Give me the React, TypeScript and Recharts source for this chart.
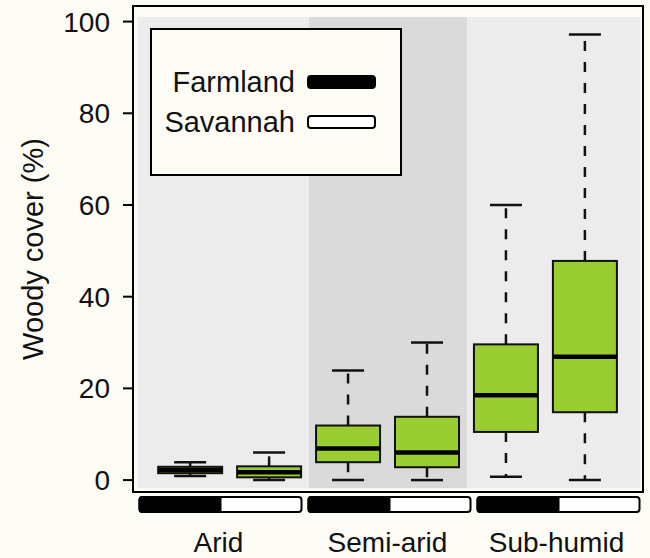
import React from "react";
import { ComposedChart, Bar, XAxis, YAxis, ReferenceArea, Legend } from "recharts";

// ---- data ----
const categories = ["Arid", "Semi-arid", "Sub-humid"];
const landUses = ["Farmland", "Savannah"];
const whiskerLow = [0.9, 0, 0, 0, 0.7, 0];
const q1 = [1.5, 0.6, 3.9, 2.8, 10.5, 14.8];
const median = [2.2, 1.7, 6.9, 6.0, 18.5, 26.9];
const q3 = [2.9, 3.0, 11.9, 13.8, 29.6, 47.8];
const whiskerHigh = [3.9, 6.0, 23.9, 30.0, 60.0, 97.2];
const yTicks = [0, 20, 40, 60, 80, 100];

const data = whiskerLow.map((_, i) => ({
  pos: i + 1,
  group: categories[Math.floor(i / 2)],
  landUse: landUses[i % 2],
  min: whiskerLow[i],
  q1: q1[i],
  median: median[i],
  q3: q3[i],
  max: whiskerHigh[i],
}));

// ---- style ----
const BOX_DOMAIN: [number, number] = [0.27, 6.73];
const Y_DOMAIN: [number, number] = [-2.6, 103.4];
const FONT = '"Liberation Sans", Arial, Helvetica, sans-serif';
const GREEN = "#9acd32";
const PAGE_BG = "#fcfcf5";
const shades = ["#ececec", "#dadada", "#ececec"];
const landUseFill = ["#000000", "#ffffff"];

function BoxShape(props: any) {
  const { x, y, width, height, payload } = props;
  if (!payload) return null;
  const top = Math.min(y, y + height);
  const bottom = Math.max(y, y + height);
  const span = payload.max - payload.min;
  const toY = (v: number) => bottom - ((v - payload.min) / span) * (bottom - top);
  const cx = x + width / 2;
  const capHalf = width / 4;
  const yQ1 = toY(payload.q1);
  const yQ3 = toY(payload.q3);
  const yMed = toY(payload.median);
  const ink = "#111";
  return (
    <g>
      <line x1={cx} x2={cx} y1={yQ3} y2={top} stroke={ink} strokeWidth={2.5} strokeDasharray="10 11" />
      <line x1={cx} x2={cx} y1={yQ1} y2={bottom} stroke={ink} strokeWidth={2.5} strokeDasharray="10 11" />
      <line x1={cx - capHalf} x2={cx + capHalf} y1={top} y2={top} stroke={ink} strokeWidth={2.5} />
      <line x1={cx - capHalf} x2={cx + capHalf} y1={bottom} y2={bottom} stroke={ink} strokeWidth={2.5} />
      <rect x={x} y={yQ3} width={width} height={Math.max(yQ1 - yQ3, 0)} fill={GREEN} stroke={ink} strokeWidth={2} />
      <line x1={x} x2={x + width} y1={yMed} y2={yMed} stroke="#000" strokeWidth={4.5} />
    </g>
  );
}

function StripTick(props: any) {
  const { x, y, payload } = props;
  const label = payload.value;
  const w = 162;
  const h = 15;
  const left = x - w / 2;
  const top = y + 5;
  return (
    <g>
      <rect x={left} y={top} width={w} height={h} rx={3} fill="#ffffff" stroke="#000" strokeWidth={2} />
      <path
        d={`M${left + 3},${top} L${x},${top} L${x},${top + h} L${left + 3},${top + h} Q${left},${top + h} ${left},${top + h - 3} L${left},${top + 3} Q${left},${top} ${left + 3},${top} Z`}
        fill="#000"
        stroke="#000"
        strokeWidth={2}
      />
      <text x={x - 2} y={y + 60} textAnchor="middle" fontSize={28} fontFamily={FONT} fill="#111">
        {label}
      </text>
    </g>
  );
}

function YLabel(props: any) {
  const vb = props.viewBox || { x: 8, y: 6, width: 125, height: 486 };
  const cx = vb.x + 35;
  const cy = vb.y + vb.height / 2;
  return (
    <text
      x={cx}
      y={cy}
      transform={`rotate(-90, ${cx}, ${cy})`}
      textAnchor="middle"
      fontSize={29}
      fontFamily={FONT}
      fill="#111"
    >
      Woody cover (%)
    </text>
  );
}

function LegendBox() {
  return (
    <div style={{ position: "absolute", left: 149, top: 27, width: 255, height: 150 }}>
      <svg width={255} height={150} style={{ display: "block" }}>
        <rect x={2} y={2} width={250} height={146} fill={PAGE_BG} stroke="#000" strokeWidth={2} />
        {landUses.map((name, i) => (
          <g key={name}>
            <text x={146} y={65 + i * 40} textAnchor="end" fontSize={29} fontFamily={FONT} fill="#111">
              {name}
            </text>
            <rect
              x={159}
              y={49 + i * 40}
              width={67}
              height={12}
              rx={3}
              fill={landUseFill[i]}
              stroke="#000"
              strokeWidth={2}
            />
          </g>
        ))}
      </svg>
    </div>
  );
}

export default function App() {
  return (
    <div style={{ position: "absolute", left: 0, top: 0, width: 650, height: 558, background: PAGE_BG }}>
      <ComposedChart width={650} height={558} data={data} margin={{ top: 6, right: 7, bottom: 0, left: 8 }}>
        <XAxis
          xAxisId="strip"
          type="category"
          dataKey="group"
          allowDuplicatedCategory={false}
          padding={{ left: 3, right: 0 }}
          height={66}
          axisLine={false}
          tickLine={false}
          tickSize={0}
          tickMargin={0}
          tick={<StripTick />}
          interval={0}
        />
        <XAxis xAxisId="box" dataKey="pos" type="number" domain={BOX_DOMAIN} hide height={0} allowDataOverflow />
        <YAxis
          type="number"
          domain={Y_DOMAIN}
          ticks={yTicks}
          width={125}
          axisLine={false}
          tickLine={{ stroke: "#000", strokeWidth: 2 }}
          tickSize={10}
          tickMargin={13}
          tick={{ fill: "#111", fontSize: 28, fontFamily: FONT }}
          interval={0}
          allowDataOverflow
          label={<YLabel />}
        />
        {categories.map((c, g) => (
          <ReferenceArea
            key={c}
            xAxisId="box"
            x1={g === 0 ? 0.33 : 2 * g + 0.5}
            x2={g === categories.length - 1 ? 6.7 : 2 * g + 2.5}
            y1={-1.8}
            y2={101}
            fill={shades[g]}
            fillOpacity={1}
            stroke="none"
            ifOverflow="visible"
          />
        ))}
        <Bar
          xAxisId="box"
          dataKey={(d: any) => [d.min, d.max]}
          barSize={64}
          shape={<BoxShape />}
          isAnimationActive={false}
          legendType="none"
        />
        <ReferenceArea
          xAxisId="box"
          x1={BOX_DOMAIN[0]}
          x2={BOX_DOMAIN[1]}
          y1={Y_DOMAIN[0]}
          y2={Y_DOMAIN[1]}
          fill="none"
          stroke="#000"
          strokeWidth={2}
          ifOverflow="visible"
        />
        <Legend content={() => <LegendBox />} wrapperStyle={{ left: 0, top: 0, width: 0, height: 0 }} />
      </ComposedChart>
    </div>
  );
}
